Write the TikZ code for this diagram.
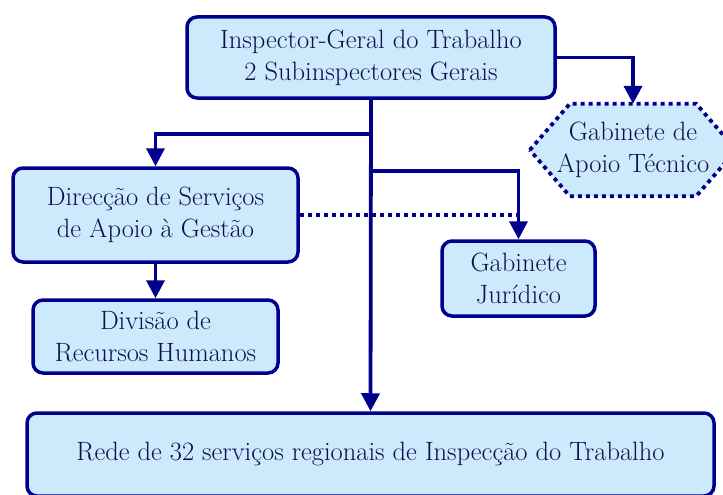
\documentclass[tikz,border=0pt]{standalone}
\usepackage{tikz}
\usetikzlibrary{arrows.meta}
\usetikzlibrary{backgrounds}

\definecolor{unitfill}{RGB}{204,234,252}
\definecolor{unitline}{RGB}{0,0,140}
\definecolor{unittext}{RGB}{14,14,78}

\begin{document}
\begin{tikzpicture}[x=1pt, y=-1pt,
        unit/.style={draw=unitline, line width=3.5pt, fill=unitfill, rounded corners=10pt, text=unittext, align=center, inner sep=0pt, font=\fontsize{26.5}{32}\selectfont},
        hexunit/.style={text=unittext, align=center, inner sep=0pt, font=\fontsize{26.5}{32}\selectfont},
        link/.style={draw=unitline, line width=3.8pt, -{Triangle[width=18pt, length=18pt]}},
        dotlink/.style={draw=unitline, line width=3.8pt, dash pattern=on 4pt off 4pt}]

        \useasboundingbox (0,0) rectangle (723,495);

        \node[unit, minimum width=368pt, minimum height=81pt] (igt) at (371,57.5) {Inspector-Geral do Trabalho\\2 Subinspectores Gerais};

        \node[hexunit, minimum width=206pt, minimum height=92pt] (gat) at (633,150) {Gabinete de\\Apoio Técnico};

        \begin{scope}[on background layer]
        \filldraw[dotlink, fill=unitfill] (gat.west) -- ([xshift=40pt]gat.north west) -- ([xshift=-40pt]gat.north east) -- (gat.east) -- ([xshift=-40pt]gat.south east) -- ([xshift=40pt]gat.south west) -- cycle;
        \end{scope}

        \node[unit, minimum width=285pt, minimum height=94pt] (dsag) at (155.5,215) {Direcção de Serviços\\de Apoio à Gestão};

        \node[unit, minimum width=245pt, minimum height=73pt] (drh) at (155.5,336.5) {Divisão de\\Recursos Humanos};

        \node[unit, minimum width=153pt, minimum height=75pt] (gj) at (518.5,278.5) {Gabinete\\Jurídico};

        \node[unit, minimum width=687pt, minimum height=83pt] (rede) at (370.5,454.5) {Rede de 32 serviços regionais de Inspecção do Trabalho};

        \draw[link] (igt.east) -| (gat.north);

        \draw[link] (igt.south) ++(0,34) coordinate(forkl) -| (dsag.north);

        \draw[link] (igt.south) ++(0,71) coordinate(forkr) -| (gj.north);

        \draw[dotlink] (dsag.east) -- (dsag.east -| gj.north);

        \draw[link] (dsag.south) -- (drh.north);

        \draw[link] (igt.south) -- (rede.north);

\end{tikzpicture}
\end{document}
